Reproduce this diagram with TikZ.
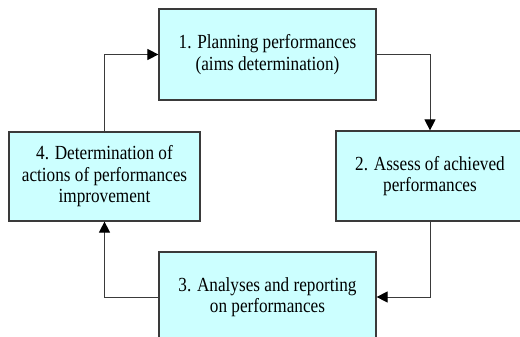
\documentclass[tikz,border=0pt]{standalone}
\usepackage{fontspec}
\setmainfont{Liberation Serif}
\newfontfamily\boxfont[FakeStretch=0.86]{Liberation Serif}
\usetikzlibrary{arrows.meta}
\definecolor{boxfill}{HTML}{CCFFFF}
\definecolor{edge}{HTML}{3A3A3A}
\tikzset{
  stepbox/.style={draw=edge, line width=1.2pt, fill=boxfill, rectangle, align=center,
    inner sep=0pt, font=\boxfont\fontsize{20}{21.5}\selectfont},
  arr/.style={draw=edge, line width=1pt, -{Triangle[length=11pt,width=11pt,fill=black,color=black]}}
}
\begin{document}
\begin{tikzpicture}[x=1pt,y=-1pt]
\useasboundingbox (0,0) rectangle (520,337);
\clip (0,0) rectangle (520,337);
\fill[white] (0,0) rectangle (520,337);
\node[stepbox, minimum width=217pt, minimum height=91pt] (b1) at (267.5,54.5)
  {1. Planning performances\\(aims determination)};
\node[stepbox, minimum width=188pt, minimum height=90pt] (b2) at (430,176)
  {2. Assess of achieved\\performances};
\node[stepbox, minimum width=217pt, minimum height=90pt] (b3) at (267.5,297)
  {3. Analyses and reporting\\on performances};
\node[stepbox, minimum width=191pt, minimum height=89pt] (b4) at (104.5,176.5)
  {4. Determination of\\actions of performances\\improvement};
\draw[arr] (b1.east) -| (b2.north);
\draw[arr] (b2.south) |- (b3.east);
\draw[arr] (b3.west) -| (b4.south);
\draw[arr] (b4.north) |- (b1.west);
\end{tikzpicture}
\end{document}
